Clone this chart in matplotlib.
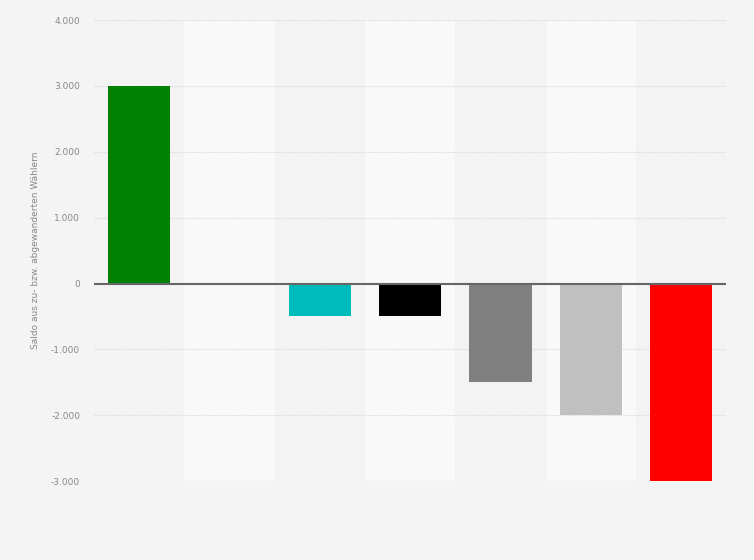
import matplotlib.pyplot as plt
import numpy as np

# Daten
categories = ["A", "B", "C", "D", "E", "F", "G"]
values = [3000, 0, -500, -500, -1500, -2000, -3000]
colors = ["#008000", "#f9f9f9", "#00bbbb", "#000000", "#808080", "#c0c0c0", "#ff0000"]
yticks = [-3000, -2000, -1000, 0, 1000, 2000, 3000, 4000]
ylabel = "Saldo aus zu- bzw. abgewanderten Wählern"

fig = plt.figure(figsize=(7.54, 5.6), dpi=100, facecolor="#f4f4f4")
ax = fig.add_axes([0.1247, 0.141, 0.8383, 0.823])
ax.set_facecolor("#f3f3f3")

x = np.arange(len(categories))
# abwechselnde Hintergrundstreifen
for i in x:
    if i % 2 == 1:
        ax.axvspan(i - 0.5, i + 0.5, color="#f9f9f9", zorder=0, lw=0)

ax.yaxis.grid(True, linestyle=(0, (1, 1)), color="#d8d8d8", linewidth=0.8, zorder=1)
ax.set_axisbelow(True)

ax.bar(x, values, width=0.69, color=colors, zorder=3, edgecolor="none")
ax.axhline(0, color="#666666", linewidth=1.5, zorder=4)

ax.set_xlim(-0.5, len(categories) - 0.5)
ax.set_ylim(-3000, 4000)
ax.set_yticks(yticks)
ax.set_yticklabels([f"{v:,}".replace(",", ".") for v in yticks])
ax.set_xticks([])
ax.tick_params(axis="y", length=0, pad=10, labelsize=6.5, labelcolor="#888888")
for s in ax.spines.values():
    s.set_visible(False)

ax.set_ylabel(ylabel, fontsize=6.5, color="#888888")
ax.yaxis.set_label_coords(-0.085, 0.5)

fig.savefig("out.png", dpi=100, facecolor=fig.get_facecolor())
